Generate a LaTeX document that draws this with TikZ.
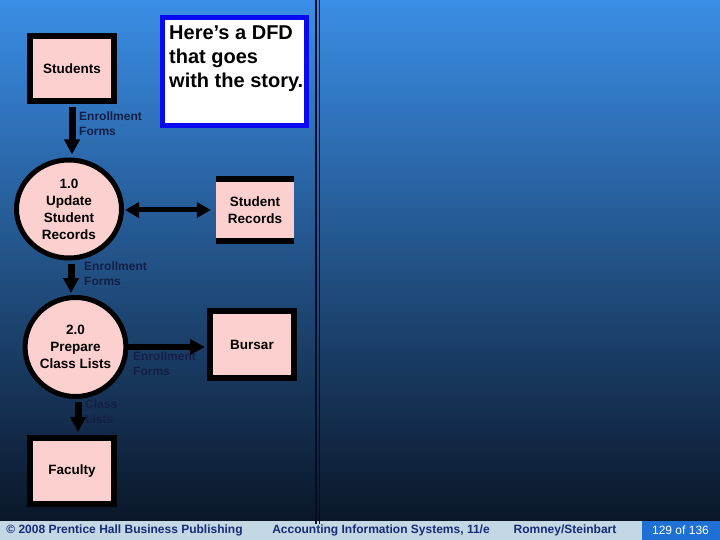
\documentclass[tikz,border=0pt]{standalone}
\usepackage{fontspec}
\setmainfont{Liberation Sans}
\usetikzlibrary{arrows.meta,shapes.geometric,calc}
\definecolor{bgtop}{RGB}{58,142,230}
\definecolor{bgmid}{RGB}{30,92,170}
\definecolor{bgbot}{RGB}{10,22,40}
\definecolor{pinkfill}{RGB}{253,208,208}
\definecolor{labelcol}{RGB}{20,30,70}
\definecolor{footband}{RGB}{196,216,228}
\definecolor{foottext}{RGB}{22,44,120}
\definecolor{pagebox}{RGB}{30,112,212}
\definecolor{notebox}{RGB}{10,10,240}
\definecolor{darkline}{RGB}{8,14,34}
\tikzset{
  entity/.style={draw=black, line width=6pt, fill=pinkfill, minimum width=84pt, inner sep=0pt, align=center, font=\fontsize{13.5}{17}\selectfont\bfseries},
  process/.style={ellipse, draw=black, line width=5pt, fill=pinkfill, inner sep=0pt, align=center, font=\fontsize{13.5}{17}\selectfont\bfseries},
  store/.style={fill=pinkfill, minimum width=78pt, minimum height=66pt, inner sep=0pt, align=center, font=\fontsize{13.5}{17}\selectfont\bfseries,
    path picture={\draw[line width=10pt,black] (path picture bounding box.north west) -- (path picture bounding box.north east);
                  \draw[line width=10pt,black] (path picture bounding box.south west) -- (path picture bounding box.south east);}},
  flow/.style={line width=7pt, black, -{Triangle[width=15pt,length=15pt]}},
  dflow/.style={line width=5pt, black, {Triangle[width=15pt,length=14pt]}-{Triangle[width=15pt,length=14pt]}},
  flowlabel/.style={anchor=north west, inner sep=0pt, align=left, text=labelcol, font=\fontsize{12}{15}\selectfont\bfseries},
  foot/.style={inner sep=0pt, text=foottext, font=\fontsize{12}{14}\selectfont\bfseries},
}
\begin{document}
\begin{tikzpicture}[x=1pt,y=-1pt]
\useasboundingbox (0,0) rectangle (720,540);
% background
\shade[top color=bgtop, middle color=bgmid, bottom color=bgbot] (0,0) rectangle (720,521);
\fill[footband] (0,521) rectangle (720,540);
\fill[pagebox] (642,521) rectangle (720,540);
% vertical double line
\draw[darkline, line width=1.6pt] (315.8,0) -- (315.8,524);
\draw[darkline, line width=1.6pt] (319.6,0) -- (319.6,524);

% note box
\node[draw=notebox, line width=5pt, fill=white, minimum width=144pt, minimum height=108pt, inner sep=0pt] (note) at (234.5,71.5) {};
\node[anchor=north west, inner sep=0pt, align=left, font=\fontsize{20}{24}\selectfont\bfseries] (notetext) at (169,26) {Here’s a DFD\\that goes\\with the story.};

% nodes
\node[entity, minimum height=65pt] (students) at (72,68.5) {Students};
\node[process, minimum width=105pt, minimum height=98pt] (p1) at (69,209) {1.0\\Update\\Student\\Records};
\node[store] (sr) at (255,210) {Student\\Records};
\node[process, minimum width=100pt, minimum height=99pt] (p2) at (75.5,347) {2.0\\Prepare\\Class Lists};
\node[entity, minimum height=67pt] (bursar) at (252,344.5) {Bursar};
\node[entity, minimum height=66pt] (faculty) at (72,471) {Faculty};

% flows
\draw[flow, shorten <=3pt, shorten >=3pt] (students.south) -- (students.south |- p1.north);
\node[flowlabel] (l1) at (79,112) {Enrollment\\Forms};

\draw[dflow, shorten <=1pt, shorten >=5pt] (sr.west -| p1.east) -- (sr.west);

\draw[flow, shorten <=3pt, shorten >=2pt] ([xshift=2pt]p1.south) -- ([xshift=2pt]p1.south |- p2.north);
\node[flowlabel] (l2) at (84,262) {Enrollment\\Forms};

\draw[flow, line width=6pt, shorten <=0pt, shorten >=2pt] (p2.east) -- (p2.east -| bursar.west);
\node[flowlabel] (l3) at (133,352) {Enrollment\\Forms};

\draw[flow, shorten <=3pt, shorten >=3pt] ([xshift=2.5pt]p2.south) -- ([xshift=2.5pt]p2.south |- faculty.north);
\node[flowlabel] (l4) at (85,400) {Class\\Lists};

% footer
\node[foot] (f1) at (124.5,530.5) {© 2008 Prentice Hall Business Publishing};
\node[foot] (f2) at (381,530.5) {Accounting Information Systems, 11/e};
\node[foot] (f3) at (565,530.5) {Romney/Steinbart};
\node[inner sep=0pt, text=white, font=\fontsize{12}{14}\selectfont] (f4) at (680.5,530.5) {129 of 136};
\end{tikzpicture}
\end{document}
